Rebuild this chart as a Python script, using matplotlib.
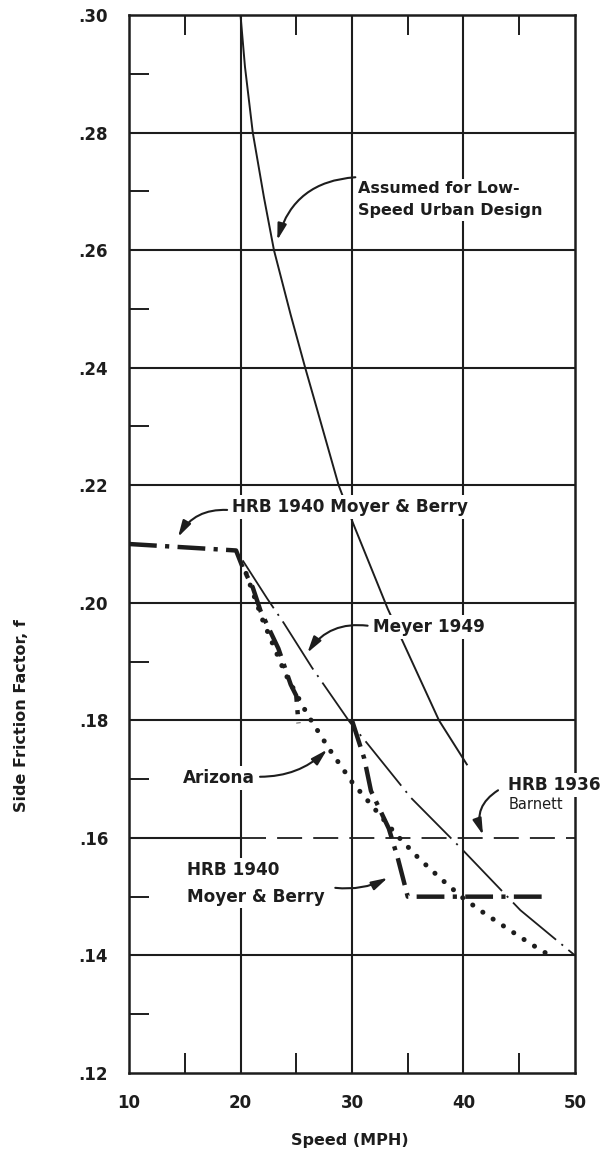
import matplotlib
matplotlib.use("Agg")
import matplotlib.pyplot as plt
from matplotlib.ticker import FixedLocator, NullFormatter

# ---- data -------------------------------------------------------------
speed_ticks = [10, 20, 30, 40, 50]
speed_labels = ["10", "20", "30", "40", "50"]
friction_ticks = [0.12, 0.14, 0.16, 0.18, 0.20, 0.22, 0.24, 0.26, 0.28, 0.30]
friction_labels = [".12", ".14", ".16", ".18", ".20", ".22", ".24", ".26", ".28", ".30"]
speed_minor = [15, 25, 35, 45]
friction_minor = [0.13, 0.15, 0.17, 0.19, 0.21, 0.23, 0.25, 0.27, 0.29]

# Assumed for low-speed urban design
urban_speed = [20.0, 20.4, 21.1, 22.1, 23.0, 24.5, 25.8, 26.6, 28.8, 30.1,
               33.2, 37.8, 40.3]
urban_f = [0.300, 0.2912, 0.280, 0.2690, 0.260, 0.2490, 0.240, 0.2347, 0.220,
           0.2135, 0.1990, 0.180, 0.1725]

# Meyer 1949
meyer_speed = [20.2, 22.4, 23.9, 26.4, 29.8, 31.4, 35.3, 40.0, 45.1, 50.0]
meyer_f = [0.2072, 0.2007, 0.1965, 0.1890, 0.1797, 0.1760, 0.1668, 0.1578, 0.1477, 0.1400]

# HRB 1940 Moyer & Berry (upper curve)
hrb40a_speed = [10.0, 19.6, 20.2, 21.1, 21.8, 23.4, 24.5, 25.0, 25.2]
hrb40a_f = [0.2100, 0.2089, 0.2060, 0.2026, 0.1986, 0.1922, 0.1861, 0.1842, 0.1795]

# HRB 1940 Moyer & Berry (lower curve)
hrb40b_speed = [30.0, 31.1, 31.7, 33.3, 34.1, 35.0, 47.1]
hrb40b_f = [0.1800, 0.1735, 0.1680, 0.1616, 0.1566, 0.1500, 0.1500]

# Arizona
arizona_speed = [20.5, 22.0, 24.0, 26.0, 28.0, 30.0, 32.0, 34.0, 36.0, 38.0,
                 40.0, 42.0, 44.0, 46.0, 48.0]
arizona_f = [0.2050, 0.1970, 0.1880, 0.1810, 0.1750, 0.1695, 0.1650, 0.1605,
             0.1565, 0.1530, 0.1497, 0.1470, 0.1445, 0.1420, 0.1397]

# HRB 1936 Barnett
barnett_speed = [20.0, 50.0]
barnett_f = [0.16, 0.16]

# ---- figure -----------------------------------------------------------
plt.rcParams["lines.scale_dashes"] = False
INK = "#1d1d1d"
FONT = "DejaVu Sans"

fig = plt.figure(figsize=(6.10, 11.55), dpi=100)
ax = fig.add_axes([0.2115, 0.0710, 0.7311, 0.9160])
ax.set_xlim(10, 50)
ax.set_ylim(0.12, 0.30)

# grid: full lines except .16, which is only ruled up to 20 mph
for x in speed_ticks[1:-1]:
    ax.vlines(x, 0.12, 0.30, color=INK, lw=1.5, zorder=1)
for y in friction_ticks[1:-1]:
    x_end = 20 if abs(y - 0.16) < 1e-9 else 50
    ax.hlines(y, 10, x_end, color=INK, lw=1.5, zorder=1)

# ticks and labels
ax.xaxis.set_major_locator(FixedLocator(speed_ticks))
ax.set_xticklabels(speed_labels)
ax.yaxis.set_major_locator(FixedLocator(friction_ticks))
ax.set_yticklabels(friction_labels)
ax.xaxis.set_minor_locator(FixedLocator(speed_minor))
ax.yaxis.set_minor_locator(FixedLocator(friction_minor))
ax.xaxis.set_minor_formatter(NullFormatter())
ax.yaxis.set_minor_formatter(NullFormatter())
ax.tick_params(which="major", length=0, pad=15, labelsize=12, labelcolor=INK)
ax.tick_params(which="minor", direction="in", length=14.5, width=1.4,
               color=INK, top=True, bottom=True, left=True, right=False)
ax.tick_params(axis="x", which="major", pad=15)
for lab in ax.get_xticklabels() + ax.get_yticklabels():
    lab.set_fontweight("bold")
    lab.set_family(FONT)
for sp in ax.spines.values():
    sp.set_linewidth(1.8)
    sp.set_color(INK)

# curves
ax.plot(urban_speed, urban_f, color=INK, lw=1.4, zorder=3)
ax.plot(meyer_speed, meyer_f, color=INK, lw=1.3, zorder=3,
        linestyle=(0, (41, 5, 1.5, 5)))
ax.plot(hrb40a_speed, hrb40a_f, color=INK, lw=3.2, zorder=3,
        linestyle=(0, (20, 6, 3, 6)), solid_capstyle="butt")
ax.plot(hrb40b_speed, hrb40b_f, color=INK, lw=3.2, zorder=3,
        linestyle=(0, (20, 6, 3, 6)), solid_capstyle="butt")
ax.plot(arizona_speed, arizona_f, color=INK, lw=3.6, zorder=3,
        linestyle=(0, (0.1, 8.8)), dash_capstyle="round")
ax.plot(barnett_speed, barnett_f, color=INK, lw=1.3, zorder=3,
        linestyle=(0, (18, 8)))

# annotations
box = dict(facecolor="white", edgecolor="none", pad=2.0)
txt = dict(color=INK, fontweight="bold", family=FONT, zorder=6, bbox=box)


def arrow(tail, tip, rad):
    ax.annotate("", xy=tip, xytext=tail, zorder=7,
                arrowprops=dict(arrowstyle="-|>,head_length=0.65,head_width=0.18",
                                connectionstyle=f"arc3,rad={rad}",
                                color=INK, lw=1.5, mutation_scale=15,
                                shrinkA=0, shrinkB=0))


ax.text(30.5, 0.2686, "Assumed for Low-\nSpeed Urban Design", fontsize=11.5,
        ha="left", va="center", linespacing=1.55, **txt)
arrow((30.3, 0.2724), (23.3, 0.2617), 0.35)

ax.text(19.25, 0.2163, "HRB 1940 Moyer & Berry", fontsize=12.2,
        ha="left", va="center", **txt)
arrow((18.8, 0.2158), (14.4, 0.2112), 0.3)

ax.text(31.9, 0.1959, "Meyer 1949", fontsize=12.2, ha="left", va="center", **txt)
arrow((31.4, 0.1961), (26.0, 0.1915), 0.3)

ax.text(14.8, 0.1702, "Arizona", fontsize=12.2, ha="left", va="center", **txt)
arrow((21.75, 0.1704), (27.76, 0.1750), 0.2)

ax.text(15.2, 0.1523, "HRB 1940\nMoyer & Berry", fontsize=12.2, ha="left",
        va="center", linespacing=1.65, **txt)
arrow((28.5, 0.1515), (33.2, 0.1532), 0.15)

ax.text(44.0, 0.1690, "HRB 1936", fontsize=12.2, ha="left", va="center",
        clip_on=False, **txt)
ax.text(44.05, 0.1657, "Barnett", fontsize=10.5, ha="left", va="center",
        clip_on=False, color=INK, family=FONT, zorder=6, bbox=box)
arrow((43.1, 0.1681), (41.75, 0.1605), 0.4)

# axis titles
fig.text(350 / 610, 1 - 1140 / 1155, "Speed (MPH)", ha="center", va="center",
         fontsize=11.5, fontweight="bold", family=FONT, color=INK)
fig.text(22 / 610, 1 - 716 / 1155, "Side Friction Factor, f", ha="center",
         va="center", rotation=90, fontsize=11.5, fontweight="bold",
         family=FONT, color=INK)

fig.savefig("out.png", dpi=100, facecolor="white")
